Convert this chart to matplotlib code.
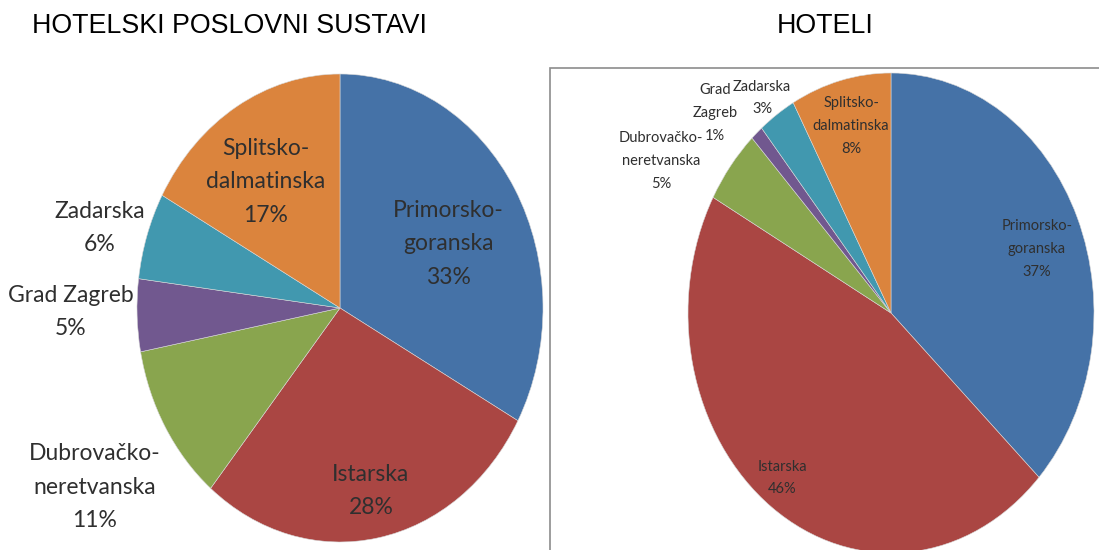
import matplotlib
matplotlib.use("Agg")
import matplotlib.pyplot as plt
from matplotlib.patches import Rectangle

# ---- data ----
left_title = "HOTELSKI POSLOVNI SUSTAVI"
right_title = "HOTELI"
left_names = ["Primorsko-\ngoranska", "Istarska", "Dubrovačko-\nneretvanska",
              "Grad Zagreb", "Zadarska", "Splitsko-\ndalmatinska"]
right_names = ["Primorsko-\ngoranska", "Istarska", "Dubrovačko-\nneretvanska",
               "Grad\nZagreb", "Zadarska", "Splitsko-\ndalmatinska"]
left_values = [33, 28, 11, 5, 6, 17]
right_values = [37, 46, 5, 1, 3, 8]

# ---- style / layout ----
colors = ["#4572A7", "#AA4643", "#89A54E", "#71588F", "#4198AF", "#DB843D"]
W, H = 1099, 550
label_font = "Lato"
text_color = "#2f2f2f"

# label centre positions in pixels (from top-left)
left_label_px = [(448, 244), (371, 491), (95, 487), (71, 312), (100, 228), (266, 182)]
right_label_px = [(1037, 249), (782, 478), (661, 161), (715, 113), (762, 98), (851, 126)]

fig = plt.figure(figsize=(W / 100, H / 100), dpi=100)
fig.patch.set_facecolor("white")


def pie_axes(cx, cy, rx, ry):
    # axes whose [-1,1] box maps to the ellipse bounding box (pixels, top-left origin)
    left = (cx - rx) / W
    bottom = (H - cy - ry) / H
    return fig.add_axes([left, bottom, 2 * rx / W, 2 * ry / H])


def draw_pie(ax, values, names, label_px, fs, ls):
    ax.pie(values, colors=colors, startangle=90, counterclock=False,
           wedgeprops=dict(edgecolor="#d8d8d8", linewidth=0.4))
    ax.set_aspect("auto")
    ax.set_xlim(-1, 1)
    ax.set_ylim(-1, 1)
    ax.axis("off")
    for name, v, (px, py) in zip(names, values, label_px):
        fig.text(px / W, 1 - py / H, f"{name}\n{v}%", ha="center", va="center",
                 multialignment="center", fontsize=fs, family=label_font,
                 color=text_color, linespacing=ls)


axL = pie_axes(340, 308, 203, 234)
draw_pie(axL, left_values, left_names, left_label_px, 16.5, 1.72)

axR = pie_axes(891, 313, 203, 240)
draw_pie(axR, right_values, right_names, right_label_px, 10.5, 1.78)

# frame of right panel
fig.add_artist(Rectangle((550 / W, -0.1), 1.0, (H - 68) / H + 0.1,
                         transform=fig.transFigure, fill=False,
                         edgecolor="#8c8c8c", linewidth=1.2, zorder=0))

fig.text(32 / W, 1 - 33 / H, left_title, ha="left", va="baseline",
         fontsize=19.3, family="Liberation Sans", color="black")
fig.text(825 / W, 1 - 33 / H, right_title, ha="center", va="baseline",
         fontsize=19.3, family="Liberation Sans", color="black")

fig.savefig("out.png", dpi=100, facecolor="white")
